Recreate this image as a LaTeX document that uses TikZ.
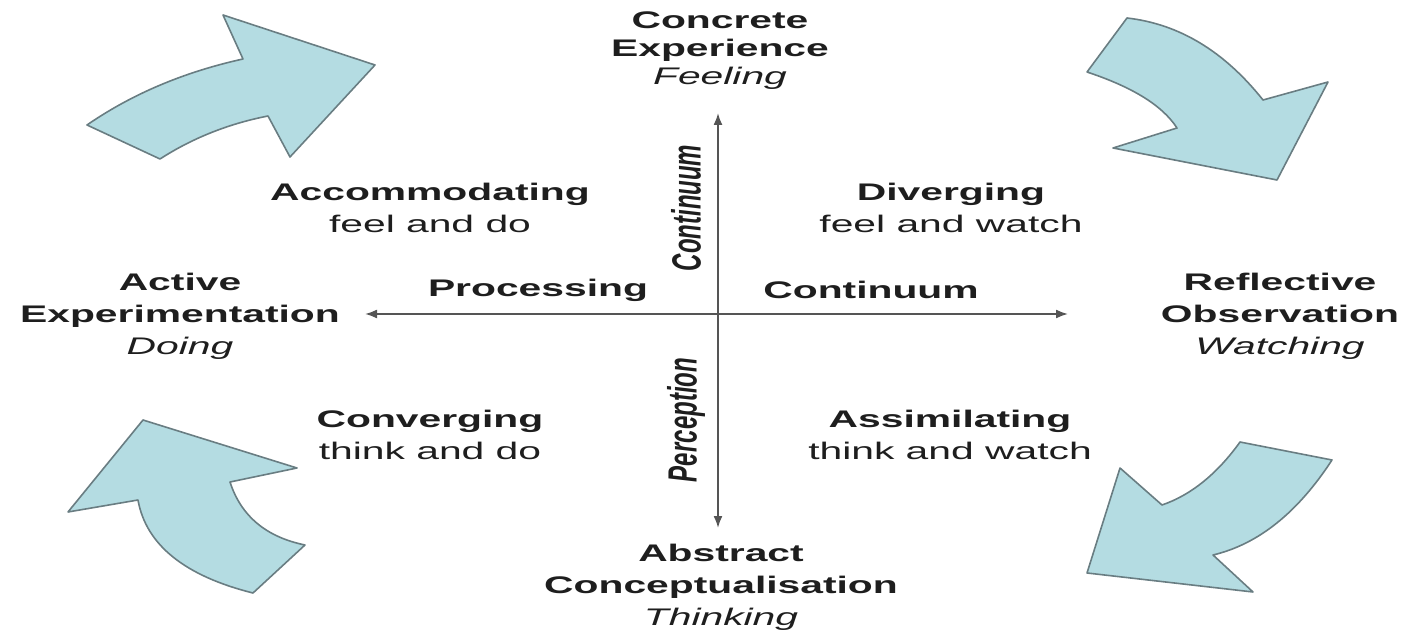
\documentclass[tikz,border=0pt]{standalone}
\usepackage{fontspec}
\setmainfont{Liberation Sans}
\usetikzlibrary{arrows.meta}
\definecolor{arrowblue}{RGB}{180,220,226}
\definecolor{arrowedge}{RGB}{105,125,130}
\definecolor{axisgray}{RGB}{85,85,85}
\definecolor{textgray}{RGB}{30,30,30}
\tikzset{
  lbl/.style={align=center, inner sep=0pt, text=textgray, font=\fontsize{12}{16}\selectfont, xscale=1.7},
  sidearrow/.style={fill=arrowblue, draw=arrowedge, line width=0.8pt, line join=round},
  axis/.style={draw=axisgray, line width=0.9pt, {Latex[length=6pt,width=4.5pt]}-{Latex[length=6pt,width=4.5pt]}}
}
\begin{document}
\begin{tikzpicture}[x=0.5pt,y=0.5pt,yscale=-1,xscale=1]
    \useasboundingbox (0,0) rectangle (1406,635);
    % curved arrows round the cycle
    \draw[sidearrow] (87,125) .. controls (132,94) and (184,72) .. (243,59) -- (223,15) -- (375,65) -- (290,157) -- (268,116) .. controls (227,124) and (191,139) .. (160,159) -- cycle;
    \draw[sidearrow] (1127,18) .. controls (1179,24) and (1224,51) .. (1263,100) -- (1328,82) -- (1277,180) -- (1113,148) -- (1177,128) .. controls (1162,105) and (1132,87) .. (1087,72) -- cycle;
    \draw[sidearrow] (143,420) -- (297,468) -- (230,482) .. controls (241,516) and (266,537) .. (305,545) -- (253,593) .. controls (185,576) and (146,545) .. (138,500) -- (68,512) -- cycle;
    \draw[sidearrow] (1240,442) -- (1332,460) .. controls (1298,512) and (1259,544) .. (1213,555) -- (1253,592) -- (1087,573) -- (1120,468) -- (1162,505) .. controls (1191,495) and (1217,474) .. (1240,442) -- cycle;
    % axes
    \coordinate (top) at (718,113);
    \coordinate (bot) at (718,528);
    \coordinate (lft) at (365,314);
    \coordinate (rgt) at (1068,314);
    \draw[axis] (bot) -- (top);
    \draw[axis] (lft) -- (rgt);
    % labels
    \draw (720,51) node (ce) [lbl, font=\fontsize{12}{14}\selectfont] {\textbf{Concrete}\\\textbf{Experience}\\\textit{Feeling}};
    \draw (721,587) node (ac) [lbl] {\textbf{Abstract}\\\textbf{Conceptualisation}\\\textit{Thinking}};
    \draw (180,316) node (ae) [lbl] {\textbf{Active}\\\textbf{Experimentation}\\\textit{Doing}};
    \draw (1280,316) node (ro) [lbl] {\textbf{Reflective}\\\textbf{Observation}\\\textit{Watching}};
    \draw (430,208) node (acc) [lbl] {\textbf{Accommodating}\\feel and do};
    \draw (951,208) node (div) [lbl] {\textbf{Diverging}\\feel and watch};
    \draw (430,435) node (conv) [lbl] {\textbf{Converging}\\think and do};
    \draw (950,435) node (assim) [lbl] {\textbf{Assimilating}\\think and watch};
    \draw (538,290) node (proc) [lbl] {\textbf{Processing}};
    \draw (871,290) node (hcont) [lbl] {\textbf{Continuum}};
    \draw (686,208) node (vcont) [lbl, rotate=90] {\textbf{\textit{Continuum}}};
    \draw (686,420) node (perc) [lbl, rotate=90] {\textbf{\textit{Perception}}};
\end{tikzpicture}
\end{document}
